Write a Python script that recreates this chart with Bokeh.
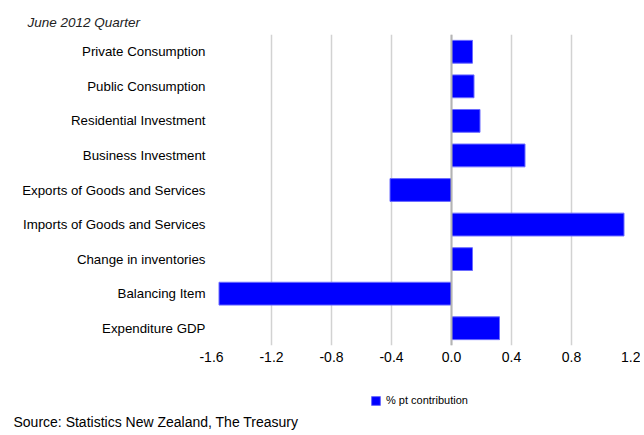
from bokeh.plotting import figure
from bokeh.layouts import column
from bokeh.models import (ColumnDataSource, FactorRange, Range1d, FixedTicker,
                          NumeralTickFormatter, Span, Title, Legend, LegendItem)
from bokeh.embed import file_html
from bokeh.resources import INLINE

categories = ["Private Consumption", "Public Consumption", "Residential Investment",
              "Business Investment", "Exports of Goods and Services",
              "Imports of Goods and Services", "Change in inventories",
              "Balancing Item", "Expenditure GDP"]
values = [0.14, 0.15, 0.19, 0.49, -0.41, 1.15, 0.14, -1.55, 0.32]
tick_values = [-1.6, -1.2, -0.8, -0.4, 0.0, 0.4, 0.8, 1.2]
series_name = "% pt contribution"
title_text = "June 2012 Quarter"
source_text = "Source: Statistics New Zealand, The Treasury"

FONT = "Liberation Sans"
BAR_FILL = "#0000ff"
BAR_LINE = "#6b6bff"

src = ColumnDataSource(dict(cat=categories, val=values))

# ---------------- main chart ----------------
p = figure(width=640, height=370, output_backend="svg", toolbar_location=None,
           y_range=FactorRange(factors=list(reversed(categories)), range_padding=0),
           x_range=Range1d(-1.6, 1.2),
           min_border_left=211, min_border_right=9, min_border_top=34,
           min_border_bottom=25)
p.outline_line_color = None
p.background_fill_color = "white"
p.border_fill_color = "white"

p.title = Title(text=title_text, align="left", offset=-184, standoff=10,
                text_font=FONT, text_font_size="13.5px", text_font_style="italic",
                text_color="#222222")

p.xgrid.ticker = FixedTicker(ticks=tick_values)
p.xgrid.grid_line_color = "#d2d2d2"
p.xgrid.grid_line_width = 1.5
p.ygrid.grid_line_color = None

zero = Span(location=0, dimension="height", line_color="#b4b4b4", line_width=2)
p.add_layout(zero)

p.hbar(y="cat", left=0, right="val", height=0.66, source=src,
       fill_color=BAR_FILL, line_color=BAR_LINE, line_width=1)

p.xaxis.ticker = FixedTicker(ticks=tick_values)
p.xaxis.formatter = NumeralTickFormatter(format="0.0")
p.xaxis.axis_line_color = None
p.xaxis.major_tick_line_color = None
p.xaxis.minor_tick_line_color = None
p.xaxis.major_tick_out = 0
p.xaxis.major_tick_in = 0
p.xaxis.major_label_standoff = 6
p.xaxis.major_label_text_font = FONT
p.xaxis.major_label_text_font_size = "14px"
p.xaxis.major_label_text_color = "black"

p.yaxis.axis_line_color = None
p.yaxis.major_tick_line_color = None
p.yaxis.major_tick_out = 0
p.yaxis.major_tick_in = 0
p.yaxis.major_label_standoff = 6
p.yaxis.major_label_text_font = FONT
p.yaxis.major_label_text_font_size = "13.3px"
p.yaxis.major_label_text_color = "black"

# ---------------- footer: legend + source ----------------
f = figure(width=640, height=62, output_backend="svg", toolbar_location=None,
           x_range=Range1d(-1.6, 1.2),
           y_range=FactorRange(factors=list(reversed(categories)), range_padding=0),
           x_axis_location=None, y_axis_location=None,
           min_border_left=211, min_border_right=9, min_border_top=0,
           min_border_bottom=23)
f.outline_line_color = None
f.xgrid.grid_line_color = None
f.ygrid.grid_line_color = None
f.background_fill_color = "white"
f.border_fill_color = "white"

# same series, hidden here, used only as the legend key
key = f.hbar(y="cat", left=0, right="val", height=0.66, source=src,
             fill_color=BAR_FILL, line_color=BAR_LINE, line_width=1,
             visible=False)
leg = Legend(items=[LegendItem(label=series_name, renderers=[key])],
             location=(159, 2), orientation="horizontal",
             padding=0, margin=0, spacing=0, click_policy="none",
             border_line_color=None, background_fill_alpha=0,
             inactive_fill_alpha=0,
             glyph_width=11, glyph_height=11, label_height=11,
             label_standoff=5, label_text_font=FONT,
             label_text_font_size="11px", label_text_color="black")
f.add_layout(leg)

f.add_layout(Title(text=source_text, align="left", offset=-198, standoff=6,
                   text_font=FONT, text_font_size="14px", text_font_style="normal",
                   text_color="black"), "below")

layout = column(p, f, spacing=0)
open("out.html", "w").write(file_html(layout, INLINE))
